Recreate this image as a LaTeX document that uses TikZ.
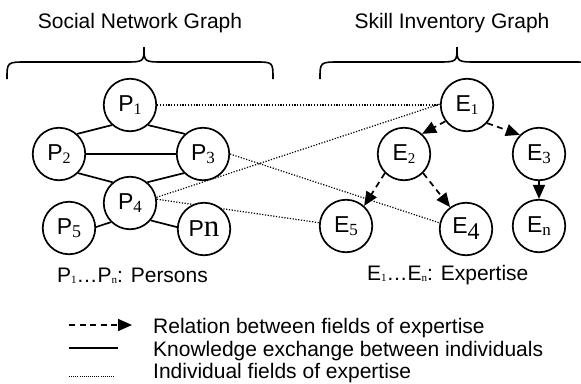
\documentclass[tikz,border=0pt]{standalone}
\usepackage{fontspec}
\setmainfont{Liberation Sans}
\newfontfamily\subserif{Liberation Serif}
\usetikzlibrary{arrows.meta,backgrounds}

% node label: letter, subscript size, subscript text, subscript drop
\newcommand\nlab[4]{\fontsize{23}{23}\selectfont #1\raisebox{-#4pt}{\subserif\fontsize{#2}{#2}\selectfont #3}}
% small subscript used in the captions
\newcommand\capsub[1]{\raisebox{-1pt}{\subserif\fontsize{11}{11}\selectfont #1}}

\begin{document}
\begin{tikzpicture}[x=1pt,y=-1pt,
  vertex/.style={circle,draw,line width=1.7pt,minimum size=52.5pt,inner sep=0pt,fill=white},
  knows/.style={line width=1.7pt},
  relation/.style={line width=1.7pt,dash pattern=on 6pt off 4.5pt,
    -{Triangle[length=14pt,width=12pt]}},
  skill/.style={line width=1.2pt,dash pattern=on 1.2pt off 1.6pt},
  brace/.style={line width=1.6pt},
  txt/.style={font=\fontsize{21}{25}\selectfont,inner sep=0pt}]

\useasboundingbox (0,0) rectangle (581,383);
\clip (0,0) rectangle (581,383);

% titles and braces
\node[txt,anchor=base] (t1) at (140,28) {Social Network Graph};
\node[txt,anchor=base] (t2) at (452,28) {Skill Inventory Graph};

\draw[brace] (7,79) .. controls (7,62) .. (27,62) -- (124,62)
  .. controls (144,62) .. (144,47) .. controls (144,62) .. (164,62)
  -- (255,62) .. controls (273,62) .. (273,79);
\draw[brace] (320,79) .. controls (320,62) .. (340,62) -- (437,62)
  .. controls (457,62) .. (457,47) .. controls (457,62) .. (477,62)
  -- (572,62) .. controls (592,62) .. (592,79);

% persons
\node[vertex] (p1) at (130,105) {\nlab{P}{16}{1}{3}};
\node[vertex] (p2) at (59,154)  {\nlab{P}{16}{2}{3}};
\node[vertex] (p3) at (203,154) {\nlab{P}{17}{3}{3}};
\node[vertex] (p4) at (130,203) {\nlab{P}{17}{4}{3}};
\node[vertex] (p5) at (69,228)  {\nlab{P}{18}{5}{3}};
\node[vertex] (pn) at (204,229) {\fontsize{23}{23}\selectfont P{\subserif\fontsize{31}{31}\selectfont n}};

% fields of expertise
\node[vertex] (e1) at (467,105) {\nlab{E}{15}{1}{3}};
\node[vertex] (e2) at (404,154) {\nlab{E}{15}{2}{3}};
\node[vertex] (e3) at (539,154) {\nlab{E}{17}{3}{3}};
\node[vertex] (e5) at (346,226) {\nlab{E}{17}{5}{3}};
\node[vertex] (e4) at (466,229) {\nlab{E}{24}{4}{6}};
\node[vertex] (en) at (539,226) {\nlab{E}{17}{n}{3}};

% knowledge exchange
\draw[knows] (p2.48) -- (p1.228);
\draw[knows] (p1.312) -- (p3.132);
\draw[knows] (p2.east) -- (p3.west);
\draw[knows] (p2.315) -- (p4.130);
\draw[knows] (p3.225) -- (p4.50);
\draw[knows] (p5.2) -- (p4.225);
\draw[knows] (p4.320) -- (pn.176);

% relations between fields
\draw[relation] (e1.217) -- (e2.48);
\draw[relation] (e1.318) -- (e3.135);
\draw[relation] (e2.225) -- (e5.48);
\draw[relation] (e2.315) -- (e4.126);
\draw[relation] (e3.south) -- (en.north);

% individual fields of expertise
\begin{scope}[on background layer]
\draw[skill] (p1.east) -- (e1.west);
\draw[skill] (p3.east) -- (e4.167);
\draw[skill] (p4.12) -- (e1.178);
\draw[skill] (p4.8) -- (e5.173);
\end{scope}

% captions
\node[txt,anchor=base west] (cp) at (57,282) {P\capsub{1}\dots P\capsub{n}: Persons};
\node[txt,anchor=base west] (ce) at (367,280) {E\capsub{1}\dots E\capsub{n}: Expertise};

% legend
\coordinate (l1a) at (69,325);  \coordinate (l1b) at (132,325);
\coordinate (l2a) at (69,348);  \coordinate (l2b) at (118,348);
\coordinate (l3a) at (69,376);  \coordinate (l3b) at (115,376);
\draw[relation] (l1a) -- (l1b);
\draw[knows] (l2a) -- (l2b);
\draw[skill,line width=0.9pt,dash pattern=on 0.9pt off 1.2pt] (l3a) -- (l3b);
\node[txt,anchor=base west] (g1) at (153,333) {Relation between fields of expertise};
\node[txt,anchor=base west] (g2) at (153,356) {Knowledge exchange between individuals};
\node[txt,anchor=base west] (g3) at (153,378) {Individual fields of expertise};
\end{tikzpicture}
\end{document}
